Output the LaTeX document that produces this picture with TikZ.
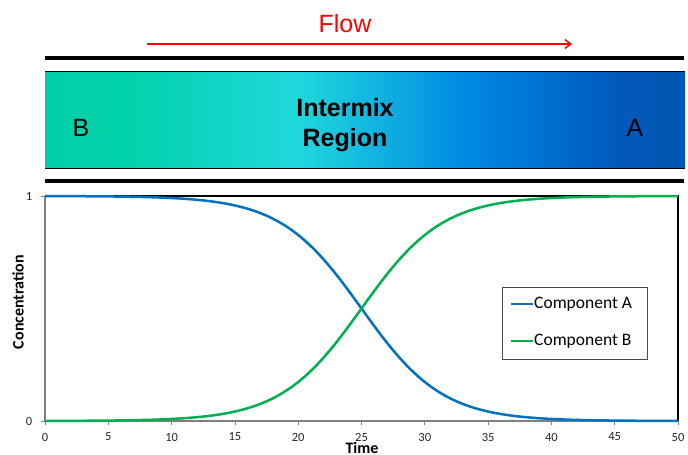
\documentclass[tikz,border=0pt]{standalone}
\usepackage{fontspec}
\usetikzlibrary{arrows.meta}
\setmainfont{Liberation Sans}
\newfontfamily\calibri{Carlito}
\definecolor{gA}{HTML}{00D0A8}
\definecolor{gB}{HTML}{00D2A8}
\definecolor{gC}{HTML}{20D8DC}
\definecolor{gD}{HTML}{0088E4}
\definecolor{gE}{HTML}{0058BA}
\definecolor{gF}{HTML}{0055B0}
\definecolor{flowred}{HTML}{FF0000}
\definecolor{cA}{HTML}{0070C0}
\definecolor{cB}{HTML}{00B050}
\definecolor{axisgray}{HTML}{808080}
\pgfdeclarehorizontalshading{mix}{100bp}{color(0bp)=(gA); color(25bp)=(gA); color(31bp)=(gB); color(44.7bp)=(gC); color(58bp)=(gD); color(70bp)=(gE); color(75bp)=(gF); color(100bp)=(gF)}
\begin{document}
\begin{tikzpicture}[x=1pt,y=-1pt,
  bar/.style={line width=3.5pt,black},
  bigtxt/.style={font=\fontsize{25}{30}\selectfont,inner sep=0pt},
  ticklbl/.style={font=\calibri\fontsize{12.5}{14}\selectfont,inner sep=0pt,text=black!85},
  axislbl/.style={font=\calibri\bfseries\fontsize{16}{18}\selectfont,inner sep=0pt},
  curve/.style={line width=2.5pt},
  legtxt/.style={font=\calibri\fontsize{17.5}{19}\selectfont,inner sep=0pt,anchor=west}]
\useasboundingbox (0,0) rectangle (688,455);
% flow
\node[bigtxt,text=flowred] (flow) at (345,24) {Flow};
\coordinate (fs) at (147,44);
\coordinate (fe) at (572,44);
\draw[flowred,line width=1.5pt,-{Straight Barb[length=6pt,width=9pt]}] (fs) -- (fe);
% bars
\coordinate (b1l) at (45,58); \coordinate (b1r) at (684,58);
\coordinate (b2l) at (45,181); \coordinate (b2r) at (684,181);
\draw[bar] (b1l) -- (b1r);
\draw[bar] (b2l) -- (b2r);
% gradient region
\path[shading=mix] (45,71) rectangle (685,168);
\draw[line width=1pt] (45,71) -- (685,71);
\draw[line width=1pt] (45,168) -- (685,168);
\node[bigtxt] (B) at (81,128) {B};
\node[bigtxt] (A) at (635,128) {A};
\node[bigtxt,font=\bfseries\fontsize{25}{30}\selectfont,align=center] (mix) at (345,125) {Intermix\\Region};
% plot frame
\coordinate (o) at (45,421);
\coordinate (tl) at (45,196);
\coordinate (tr) at (678,196);
\coordinate (br) at (678,421);
\draw[line width=1.8pt,black] (tl) -- (tr) -- (br);
\draw[line width=1.8pt,axisgray] (tl) -- (o) -- (br);
\foreach \t in {0,5,...,50}{
  \draw[axisgray,line width=0.8pt] ({45+12.66*\t},421) -- ({45+12.66*\t},425);
  \node[ticklbl] (xt\t) at ({45+12.66*\t},437) {\t};
}
\draw[axisgray,line width=0.8pt] (41,196) -- (45,196);
\draw[axisgray,line width=0.8pt] (41,421) -- (45,421);
\node[ticklbl] (y1) at (29,196) {1};
\node[ticklbl] (y0) at (29,421) {0};
\node[axislbl] (time) at (362,447.5) {Time};
\node[axislbl,rotate=90] (conc) at (18,302) {Concentration};
% curves
\draw[curve,cA] plot[domain=0:50,samples=120,smooth] ({45+12.66*\x},{421-225/(1+exp((\x-25)/3.2))});
\draw[curve,cB] plot[domain=0:50,samples=120,smooth] ({45+12.66*\x},{421-225/(1+exp(-(\x-25)/3.2))});
% legend
\node[draw=black!70,line width=0.8pt,minimum width=145pt,minimum height=72pt,inner sep=0pt] (leg) at (574.5,323) {};
\coordinate (la1) at (511,304); \coordinate (la2) at (533,304);
\coordinate (lb1) at (511,341); \coordinate (lb2) at (533,341);
\draw[cA,line width=2.5pt] (la1) -- (la2);
\draw[cB,line width=2.5pt] (lb1) -- (lb2);
\node[legtxt] (ta) at (534,304) {Component A};
\node[legtxt] (tb) at (534,341) {Component B};
\end{tikzpicture}
\end{document}
